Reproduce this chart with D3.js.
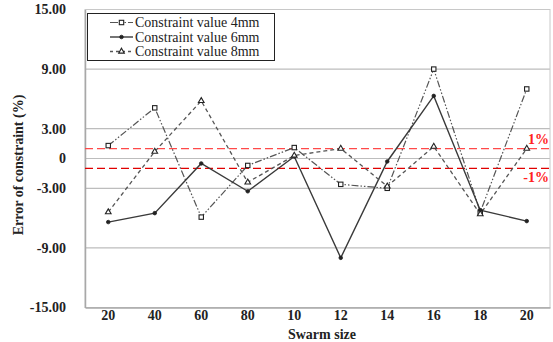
<!DOCTYPE html>
<html>
<head>
<meta charset="utf-8">
<script src="https://cdn.jsdelivr.net/npm/d3@7/dist/d3.min.js"></script>
<style>
  html, body { margin: 0; padding: 0; background: #fff; }
  svg text { font-family: "Liberation Serif", "Times New Roman", "DejaVu Serif", serif !important; }
</style>
</head>
<body>
<svg id="chart" width="553" height="342"></svg>
<script>
// Swarm size categories along the x axis
const categories = ["20", "40", "60", "80", "10", "12", "14", "16", "18", "20"];

// Error of constraint (%) per constraint value
const series4mm = [1.3, 5.1, -5.9, -0.7, 1.1, -2.6, -3.0, 9.0, -5.4, 7.0];
const series6mm = [-6.4, -5.5, -0.5, -3.3, 0.2, -10.0, -0.3, 6.3, -5.2, -6.3];
const series8mm = [-5.4, 0.7, 5.8, -2.4, 0.3, 1.0, -2.8, 1.2, -5.6, 1.0];

const seriesNames = ["Constraint value 4mm", "Constraint value 6mm", "Constraint value 8mm"];
const yTicks = [15, 9, 3, 0, -3, -9, -15];
const yTickLabels = ["15.00", "9.00", "3.00", "0", "-3.00", "-9.00", "-15.00"];
const limits = [1, -1];
const limitLabels = ["1%", "-1%"];

const svg = d3.select("#chart");
const margin = { left: 85, right: 3, top: 9.5, bottom: 34.5 };
const W = 553, H = 342;
const plotW = W - margin.left - margin.right;
const plotH = H - margin.top - margin.bottom;

const x = d3.scaleBand().domain(d3.range(categories.length)).range([margin.left, margin.left + plotW]);
const y = d3.scaleLinear().domain([-15, 15]).range([margin.top + plotH, margin.top]);
const cx = i => x(i) + x.bandwidth() / 2;

// Gridlines
svg.append("g").selectAll("line").data(yTicks).join("line")
  .attr("x1", margin.left).attr("x2", margin.left + plotW)
  .attr("y1", d => y(d)).attr("y2", d => y(d))
  .attr("stroke", "#bdbdbd").attr("stroke-width", 1.2);

// Plot frame
svg.append("rect")
  .attr("x", margin.left).attr("y", margin.top)
  .attr("width", plotW).attr("height", plotH)
  .attr("fill", "none").attr("stroke", "#c8c8c8").attr("stroke-width", 1);

// Axes
const yAxis = d3.axisLeft(y).tickValues(yTicks).tickSize(0).tickPadding(19)
  .tickFormat((d, i) => yTickLabels[i]);
const gy = svg.append("g").attr("transform", `translate(${margin.left},0)`).call(yAxis);
gy.select(".domain").attr("stroke", "#a8a8a8").attr("stroke-width", 1.5);
gy.selectAll("text").attr("font-size", 14).attr("font-weight", "bold").attr("fill", "#222");

const xAxis = d3.axisBottom(x).tickSize(0).tickPadding(3).tickFormat(i => categories[i]);
const gx = svg.append("g").attr("transform", `translate(0,${margin.top + plotH})`).call(xAxis);
gx.select(".domain").attr("stroke", "#a8a8a8").attr("stroke-width", 1.5);
gx.selectAll("text").attr("font-size", 14).attr("font-weight", "bold").attr("fill", "#222");

// Axis titles
svg.append("text")
  .attr("x", 322).attr("y", 339)
  .attr("text-anchor", "middle").attr("font-size", 14).attr("font-weight", "bold").attr("fill", "#222")
  .text("Swarm size");
svg.append("text")
  .attr("transform", `translate(23,${165}) rotate(-90)`)
  .attr("text-anchor", "middle").attr("font-size", 14).attr("font-weight", "bold").attr("fill", "#222")
  .text("Error of constraint (%)");

// ±1% tolerance lines
const limitColors = ["#ff4a4a", "#e00000"];
svg.append("g").selectAll("line").data(limits).join("line")
  .attr("x1", margin.left).attr("x2", margin.left + plotW)
  .attr("y1", d => y(d)).attr("y2", d => y(d))
  .attr("stroke", (d, i) => limitColors[i]).attr("stroke-width", 1.3)
  .attr("stroke-dasharray", "8,4");
svg.append("g").selectAll("text").data(limits).join("text")
  .attr("x", 549).attr("y", (d, i) => i === 0 ? y(d) - 5 : y(d) + 14)
  .attr("text-anchor", "end").attr("font-size", 14).attr("font-weight", "bold")
  .attr("fill", "#ff2020")
  .text((d, i) => limitLabels[i]);

// Series
const styles = [
  { data: series4mm, color: "#555", dash: "7,2,1.5,2,1.5,2", width: 1.2, marker: "square" },
  { data: series6mm, color: "#3a3a3a", dash: null, width: 1.4, marker: "dot" },
  { data: series8mm, color: "#555", dash: "4,3", width: 1.3, marker: "triangle" }
];

const line = d3.line().x((d, i) => cx(i)).y(d => y(d));

function drawMarker(g, type, px, py) {
  if (type === "square") {
    g.append("rect").attr("x", px - 2.2).attr("y", py - 2.2).attr("width", 4.4).attr("height", 4.4)
      .attr("fill", "#fff").attr("stroke", "#222").attr("stroke-width", 1.1);
  } else if (type === "dot") {
    g.append("circle").attr("cx", px).attr("cy", py).attr("r", 1.8)
      .attr("fill", "#222").attr("stroke", "#222").attr("stroke-width", 0.8);
  } else {
    g.append("path").attr("d", d3.symbol(d3.symbolTriangle, 14)()).attr("transform", `translate(${px},${py})`)
      .attr("fill", "#fff").attr("stroke", "#222").attr("stroke-width", 1.1);
  }
}

styles.forEach(s => {
  svg.append("path").datum(s.data)
    .attr("d", line).attr("fill", "none")
    .attr("stroke", s.color).attr("stroke-width", s.width)
    .attr("stroke-dasharray", s.dash);
});
styles.forEach(s => {
  const g = svg.append("g");
  s.data.forEach((v, i) => drawMarker(g, s.marker, cx(i), y(v)));
});

// Legend
const lg = svg.append("g");
lg.append("rect").attr("x", 87.5).attr("y", 13.5).attr("width", 187).attr("height", 47)
  .attr("fill", "#fff").attr("stroke", "#222").attr("stroke-width", 1);
seriesNames.forEach((name, i) => {
  const ly = 22.5 + i * 14.5;
  const s = styles[i];
  lg.append("line").attr("x1", 110).attr("x2", 133).attr("y1", ly).attr("y2", ly)
    .attr("stroke", s.color).attr("stroke-width", s.width)
    .attr("stroke-dasharray", s.dash ? (i === 0 ? "8,3,1.5,2,1.5,2" : "3,3") : null);
  drawMarker(lg, s.marker, 121.5, ly);
  lg.append("text").attr("x", 135).attr("y", ly + 4.5).attr("font-size", 14).attr("fill", "#222")
    .text(name);
});
</script>
</body>
</html>
